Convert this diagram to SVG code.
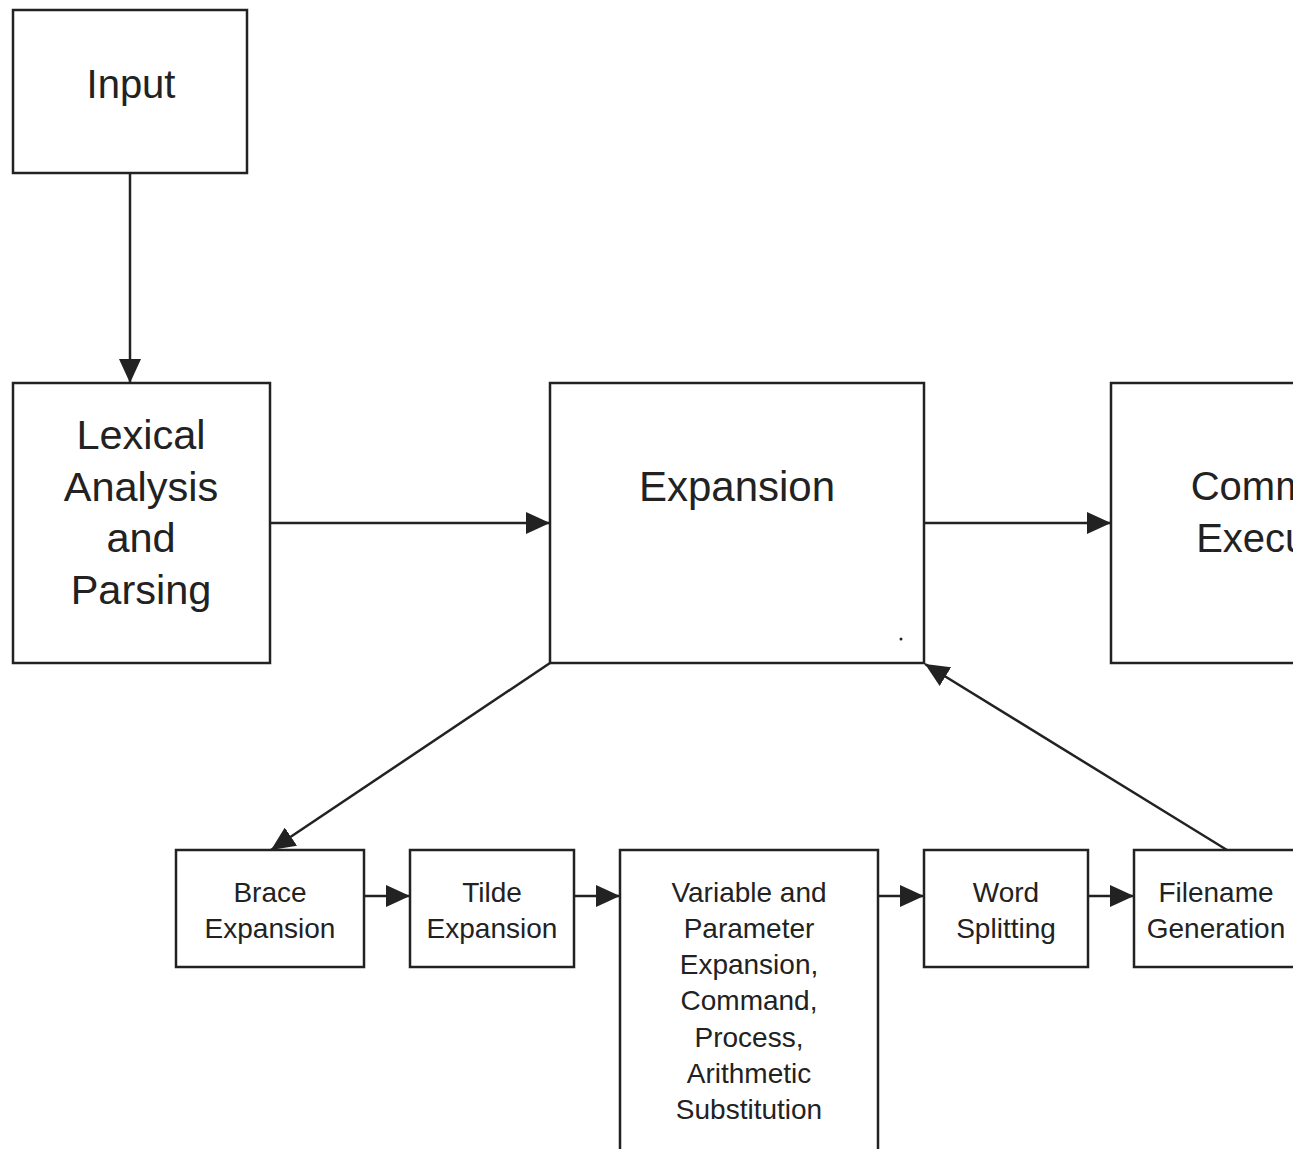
<svg xmlns="http://www.w3.org/2000/svg" width="1293" height="1149" viewBox="0 0 1293 1149">
<style>
.box{fill:#fff;stroke:#222;stroke-width:2.5}
.big{font-family:"Liberation Sans",Arial,sans-serif;font-size:41.5px;fill:#222;text-anchor:middle}
.sm{font-family:"Liberation Sans",Arial,sans-serif;font-size:28px;fill:#222;text-anchor:middle}
.conn{stroke:#222;stroke-width:2.5;fill:none;marker-end:url(#ah)}
</style>
<defs>
<marker id="ah" markerUnits="userSpaceOnUse" markerWidth="24" markerHeight="22" refX="24" refY="11" orient="auto">
<path d="M0,0 L24,11 L0,22 Z" fill="#222"/>
</marker>
</defs>
<rect width="1293" height="1149" fill="#fff"/>
<g id="connectors">
<line class="conn" x1="130" y1="173" x2="130" y2="383"/>
<line class="conn" x1="270" y1="523" x2="550" y2="523"/>
<line class="conn" x1="924" y1="523" x2="1111" y2="523"/>
<line class="conn" x1="550" y1="663" x2="271" y2="850"/>
<line class="conn" x1="1227" y1="850" x2="925" y2="664"/>
<line class="conn" x1="364" y1="896" x2="410" y2="896"/>
<line class="conn" x1="574" y1="896" x2="620" y2="896"/>
<line class="conn" x1="878" y1="896" x2="924" y2="896"/>
<line class="conn" x1="1088" y1="896" x2="1134" y2="896"/>
</g>
<g id="input">
<rect class="box" x="13" y="10" width="234" height="163"/>
<text class="big" x="131" y="98" style="font-size:40px">Input</text>
</g>
<g id="lexical">
<rect class="box" x="13" y="383" width="257" height="280"/>
<text class="big" x="141" y="449">Lexical</text>
<text class="big" x="141" y="501">Analysis</text>
<text class="big" x="141" y="552">and</text>
<text class="big" x="141" y="604">Parsing</text>
</g>
<g id="expansion">
<rect class="box" x="550" y="383" width="374" height="280"/>
<text class="big" x="737" y="501" style="font-size:42px">Expansion</text>
<circle cx="901" cy="639" r="1.5" fill="#222"/>
</g>
<g id="command">
<rect class="box" x="1111" y="383" width="344" height="280"/>
<text class="big" x="1283" y="500" style="font-size:40px">Command</text>
<text class="big" x="1284" y="552" style="font-size:40px">Execution</text>
</g>
<g id="brace">
<rect class="box" x="176" y="850" width="188" height="117"/>
<text class="sm" x="270" y="902">Brace</text>
<text class="sm" x="270" y="938">Expansion</text>
</g>
<g id="tilde">
<rect class="box" x="410" y="850" width="164" height="117"/>
<text class="sm" x="492" y="902">Tilde</text>
<text class="sm" x="492" y="938">Expansion</text>
</g>
<g id="variable">
<rect class="box" x="620" y="850" width="258" height="320"/>
<text class="sm" x="749" y="902">Variable and</text>
<text class="sm" x="749" y="938">Parameter</text>
<text class="sm" x="749" y="974">Expansion,</text>
<text class="sm" x="749" y="1010">Command,</text>
<text class="sm" x="749" y="1047">Process,</text>
<text class="sm" x="749" y="1083">Arithmetic</text>
<text class="sm" x="749" y="1119">Substitution</text>
</g>
<g id="word">
<rect class="box" x="924" y="850" width="164" height="117"/>
<text class="sm" x="1006" y="902">Word</text>
<text class="sm" x="1006" y="938">Splitting</text>
</g>
<g id="filename">
<rect class="box" x="1134" y="850" width="164" height="117"/>
<text class="sm" x="1216" y="902">Filename</text>
<text class="sm" x="1216" y="938">Generation</text>
</g>
</svg>
